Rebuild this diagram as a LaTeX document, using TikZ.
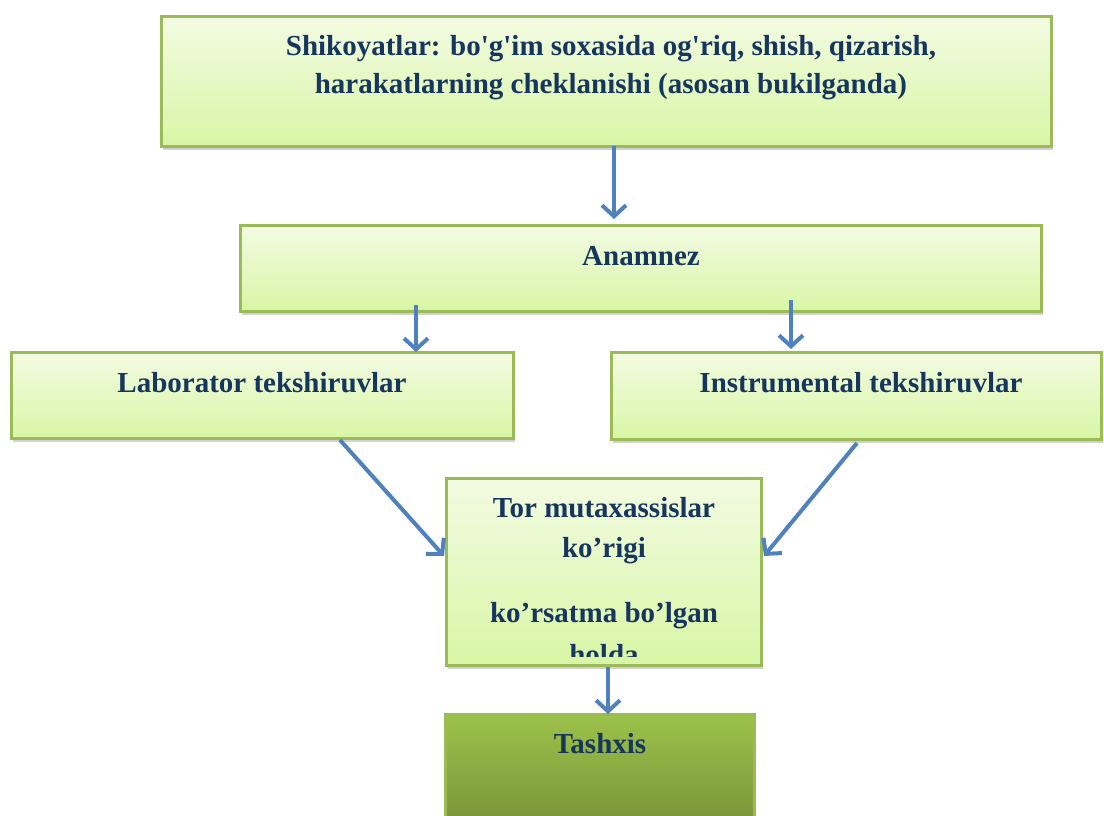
\documentclass[tikz,border=0pt]{standalone}
\usepackage{fontspec}
\setmainfont{Liberation Serif}
\usetikzlibrary{arrows.meta,shadows}
\definecolor{txt}{HTML}{17365D}
\definecolor{arr}{HTML}{4F81BD}
\definecolor{bord}{HTML}{9BBB59}
\definecolor{ltop}{HTML}{F3FBE2}
\definecolor{lbot}{HTML}{D8F6A6}
\definecolor{dtop}{HTML}{9DC24A}
\definecolor{dbot}{HTML}{78953A}
\tikzset{
  box/.style={draw=bord, line width=3pt, top color=ltop, bottom color=lbot, rectangle, inner sep=0pt,
    drop shadow={shadow xshift=2pt, shadow yshift=-4pt, opacity=0.3, fill=black!60}},
  darkbox/.style={box, top color=dtop, bottom color=dbot},
  lbl/.style={text=txt, font=\bfseries\fontsize{29}{33}\selectfont, anchor=base, inner sep=0pt},
  conn/.style={draw=arr, line width=4pt, -{Straight Barb[length=11pt,width=24pt,line width=4pt]}}
}
\begin{document}
\begin{tikzpicture}[x=1pt,y=-1pt]
\useasboundingbox (0,0) rectangle (1104,815);
% boxes
\node[box, minimum width=890pt, minimum height=130pt] (top) at (606,81) {};
\node[box, minimum width=801pt, minimum height=86pt] (anam) at (640.5,268) {};
\node[box, minimum width=502pt, minimum height=86pt] (lab) at (262,395) {};
\node[box, minimum width=490pt, minimum height=87pt] (ins) at (856,395.5) {};
\node[box, minimum width=315pt, minimum height=187pt] (tor) at (603.5,571.5) {};
\node[darkbox, minimum width=309pt, minimum height=110pt] (tash) at (599.5,769) {};
% texts
\node[lbl] (t1) at (611,55) {Shikoyatlar: bo\textquotesingle g\textquotesingle im soxasida og\textquotesingle riq, shish, qizarish,};
\node[lbl] (t2) at (611,93) {harakatlarning cheklanishi (asosan bukilganda)};
\node[lbl] (t3) at (641,265) {Anamnez};
\node[lbl] (t4) at (262,392) {Laborator tekshiruvlar};
\node[lbl] (t5) at (861,392) {Instrumental tekshiruvlar};
\begin{scope}
\clip (447.5,479.5) rectangle (759.5,656);
\node[lbl] (t6) at (604,517) {Tor mutaxassislar};
\node[lbl] (t7) at (604,557) {ko’rigi};
\node[lbl] (t8) at (604,622) {ko’rsatma bo’lgan};
\node[lbl] (t9) at (604,664) {holda};
\end{scope}
\node[lbl] (t10) at (600,753) {Tashxis};
% connectors
\coordinate (a1) at (614,146);
\coordinate (a2) at (416,305);
\coordinate (a3) at (791,300);
\coordinate (a4) at (340,440);
\coordinate (a5) at (857,443);
\draw[conn] (a1) -- (614,219);
\draw[conn] (a2) -- (416,352);
\draw[conn] (a3) -- (791,349);
\draw[conn] (a4) -- (444,556);
\draw[conn] (a5) -- (764,556);
\draw[conn] (tor.south -| 608,0) -- (608,714);
\end{tikzpicture}
\end{document}
